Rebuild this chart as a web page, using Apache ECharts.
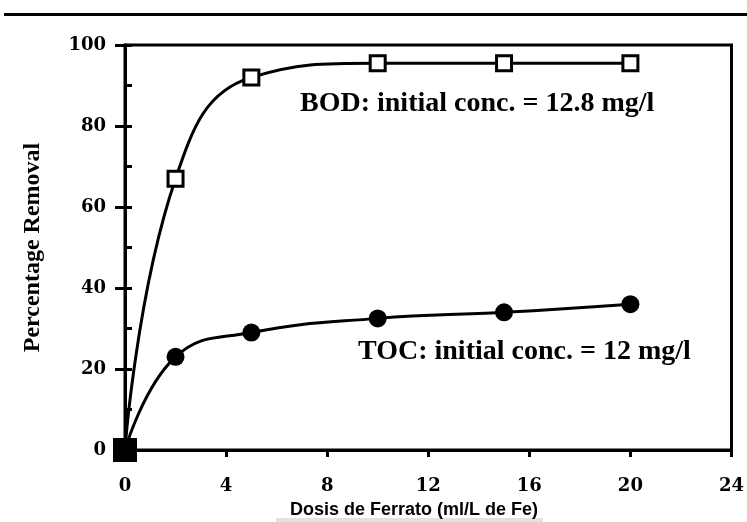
<!DOCTYPE html>
<html>
<head>
<meta charset="utf-8">
<script src="https://cdn.jsdelivr.net/npm/echarts@6/dist/echarts.min.js"></script>
<style>
  html, body { margin: 0; padding: 0; background: #fff; }
  #chart { width: 747px; height: 522px; }
</style>
</head>
<body>
<div id="chart"></div>
<script>
// Ferrate dose (ml/L as Fe) and percentage removal
const doses = [0, 2, 5, 10, 15, 20];
const bodRemoval = [0, 67, 92, 95.5, 95.5, 95.5];
const tocRemoval = [0, 23, 29, 32.5, 34, 36];

// Axis ticks
const xTicks = [0, 4, 8, 12, 16, 20, 24];
const yTicks = [0, 20, 40, 60, 80, 100];

// Text
const xTitle = 'Dosis de Ferrato (ml/L de Fe)';
const yTitle = 'Percentage Removal';
const bodNote = 'BOD: initial conc. = 12.8 mg/l';
const tocNote = 'TOC: initial conc. = 12 mg/l';

const serif = '"Liberation Serif", "Times New Roman", serif';
const tickFont = '"DejaVu Serif", "Liberation Serif", serif';

const chart = echarts.init(document.getElementById('chart'), null, { renderer: 'canvas' });

const pairs = (ys) => doses.map((x, i) => [x, ys[i]]);

const bodData = pairs(bodRemoval).map((p, i) =>
  i === 0 ? { value: p, symbolSize: 21, itemStyle: { color: '#000' } } : { value: p });

const yStep = yTicks[1] - yTicks[0];
const xStep = xTicks[1] - xTicks[0];

chart.setOption({
  animation: false,
  backgroundColor: '#fff',
  grid: {
    left: 125, top: 45, right: 14, bottom: 72,
    show: true, borderColor: '#000', borderWidth: 3
  },
  xAxis: {
    type: 'value',
    min: xTicks[0], max: xTicks[xTicks.length - 1], interval: xStep,
    axisLine: { show: true, lineStyle: { color: '#000', width: 3 } },
    axisTick: { show: true, inside: false, length: 7, lineStyle: { color: '#000', width: 3 } },
    splitLine: { show: false },
    axisLabel: {
      margin: 27, color: '#000', fontFamily: tickFont, fontWeight: 'bold', fontSize: 18
    }
  },
  yAxis: [
    {
      type: 'value',
      min: yTicks[0], max: yTicks[yTicks.length - 1], interval: yStep,
      axisLine: { show: true, lineStyle: { color: '#000', width: 3 } },
      axisTick: { show: true, inside: true, length: 7, lineStyle: { color: '#000', width: 3 } },
      minorTick: { show: true, splitNumber: 2, length: 7, lineStyle: { color: '#000', width: 3 } },
      splitLine: { show: false },
      axisLabel: {
        margin: 19, color: '#000', fontFamily: tickFont, fontWeight: 'bold', fontSize: 18
      },
      name: yTitle,
      nameLocation: 'middle',
      nameGap: 80,
      nameTextStyle: { color: '#000', fontFamily: serif, fontWeight: 'bold', fontSize: 24 }
    },
    {
      // outward half of the major ticks
      type: 'value',
      position: 'left',
      min: yTicks[0], max: yTicks[yTicks.length - 1], interval: yStep,
      axisLine: { show: false },
      axisTick: { show: true, inside: false, length: 10, lineStyle: { color: '#000', width: 3 } },
      axisLabel: { show: false },
      splitLine: { show: false }
    }
  ],
  series: [
    {
      name: 'BOD',
      type: 'line',
      data: bodData,
      smooth: 0.45,
      symbol: 'rect',
      symbolSize: 15,
      lineStyle: { color: '#000', width: 3 },
      itemStyle: { color: '#fff', borderColor: '#000', borderWidth: 3 },
      z: 3
    },
    {
      name: 'TOC',
      type: 'line',
      data: pairs(tocRemoval),
      smooth: 0.45,
      symbol: 'circle',
      symbolSize: 18,
      lineStyle: { color: '#000', width: 3 },
      itemStyle: { color: '#000' },
      z: 2
    }
  ],
  graphic: [
    { type: 'rect', shape: { x: 4, y: 13, width: 743, height: 3 }, style: { fill: '#000' } },
    { type: 'rect', shape: { x: 276, y: 518, width: 267, height: 4 }, style: { fill: '#e2e2e2' } },
    {
      type: 'text', left: 300, top: 90,
      style: { text: bodNote, fill: '#000', font: 'bold 28px ' + serif }
    },
    {
      type: 'text', left: 358, top: 338,
      style: { text: tocNote, fill: '#000', font: 'bold 28px ' + serif }
    },
    {
      type: 'text', left: 290, top: 501,
      style: { text: xTitle, fill: '#000', font: 'bold 18px "Liberation Sans", Arial, sans-serif' }
    }
  ]
});
</script>
</body>
</html>
